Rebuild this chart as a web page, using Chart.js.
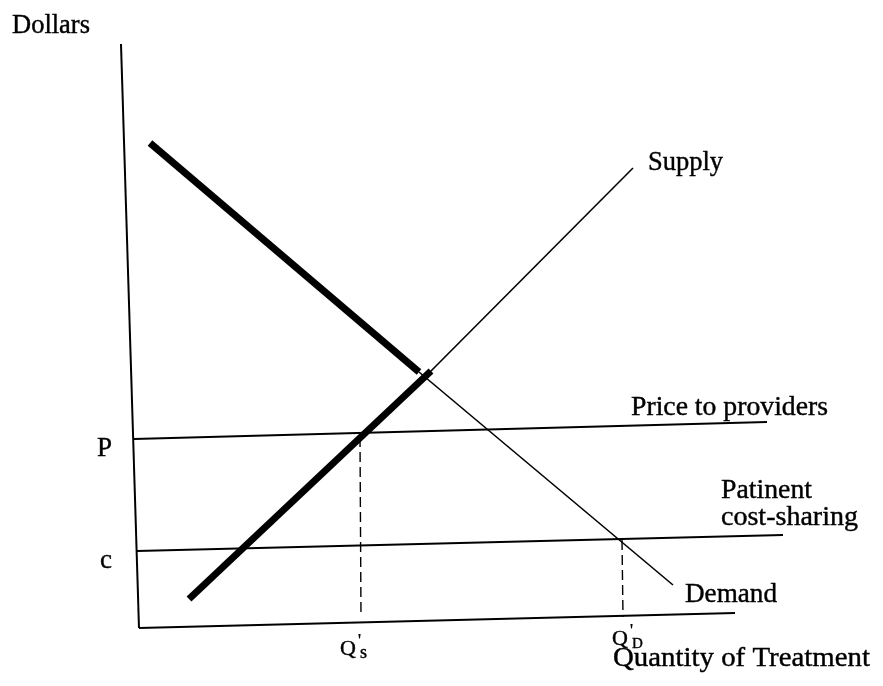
<!DOCTYPE html>
<html>
<head>
<meta charset="utf-8">
<script src="https://cdn.jsdelivr.net/npm/chart.js@4.4.1/dist/chart.umd.min.js"></script>
<style>
  html, body { margin: 0; padding: 0; background: #ffffff; }
  #wrap { width: 883px; height: 686px; position: relative; }
  #fontwarm { position: absolute; left: -9999px; top: 0; font-family: "Liberation Serif"; font-size: 27px; }
</style>
</head>
<body>
<div id="wrap"><canvas id="c" width="883" height="686"></canvas></div>
<span id="fontwarm">Dollars Qs D</span>
<script>
// Diagram coordinates (horizontal = quantity direction, vertical = dollars direction)
const axisY        = [{x:121, y:44},  {x:139, y:628}];
const axisX        = [{x:139, y:628}, {x:735, y:613}];
const priceLine    = [{x:134, y:439}, {x:767, y:422}];
const costLine     = [{x:137, y:551}, {x:783, y:535}];
const demandThick  = [{x:150, y:143}, {x:419, y:372}];
const demandThin   = [{x:419, y:372}, {x:673, y:585}];
const supplyThick  = [{x:189, y:599}, {x:431, y:371}];
const supplyThin   = [{x:427, y:375}, {x:633, y:168}];
const qsDash       = [{x:360, y:437}, {x:361, y:617}];
const qdDash       = [{x:622, y:540}, {x:623, y:617}];

// Text labels
const labelTexts = ["Dollars", "Supply", "Price to providers", "Patinent", "cost-sharing", "Demand", "Quantity of Treatment", "P", "c"];
const labelX     = [12, 648, 631, 721, 721, 685, 613, 97, 100];
const labelY     = [33, 170, 415, 498, 525, 602, 666, 456, 568];
const labelW     = [78, 75, 197, 91, 137, 92, 257, 15, 12];

const qLabels    = ["Q", "Q"];
const qSubs      = ["s", "D"];
const qX         = [340, 612];
const qY         = [655, 645];

const ink = '#000000';
const SERIF = '"Liberation Serif", "Times New Roman", Times, serif';

function seg(data, width, dash) {
  return {
    data: data,
    showLine: true,
    borderColor: ink,
    backgroundColor: ink,
    borderWidth: width,
    borderDash: dash || [],
    pointRadius: 0,
    pointHoverRadius: 0,
    fill: false,
    tension: 0,
    borderCapStyle: 'butt'
  };
}

const textPlugin = {
  id: 'diagramText',
  afterDatasetsDraw(chart) {
    const ctx = chart.ctx;
    const xs = chart.scales.x, ys = chart.scales.y;
    ctx.save();
    ctx.fillStyle = ink;
    ctx.strokeStyle = ink;
    ctx.lineWidth = 0.4;
    ctx.textBaseline = 'alphabetic';
    ctx.textAlign = 'left';
    for (let i = 0; i < labelTexts.length; i++) {
      ctx.font = '27px ' + SERIF;
      const px = xs.getPixelForValue(labelX[i]);
      const py = ys.getPixelForValue(labelY[i]);
      const w = ctx.measureText(labelTexts[i]).width;
      const sx = labelW[i] / w;
      ctx.save();
      ctx.translate(px, py);
      ctx.scale(sx, 1);
      ctx.fillText(labelTexts[i], 0, 0);
      ctx.strokeText(labelTexts[i], 0, 0);
      ctx.restore();
    }
    for (let i = 0; i < qLabels.length; i++) {
      const px = xs.getPixelForValue(qX[i]);
      const py = ys.getPixelForValue(qY[i]);
      ctx.font = '22px ' + SERIF;
      ctx.fillText(qLabels[i], px, py);
      ctx.strokeText(qLabels[i], px, py);
      const qw = ctx.measureText(qLabels[i]).width;
      ctx.font = 'bold 18px ' + SERIF;
      ctx.fillText("'", px + qw + 1, py - 8);
      ctx.font = (qSubs[i] === 's' ? '18px ' : '15px ') + SERIF;
      ctx.fillText(qSubs[i], px + qw + 4, py + 3);
      ctx.strokeText(qSubs[i], px + qw + 4, py + 3);
    }
    ctx.restore();
  }
};

function build() {
  new Chart(document.getElementById('c'), {
    type: 'scatter',
    data: {
      datasets: [
        seg(axisY, 2),
        seg(axisX, 2),
        seg(priceLine, 1.8),
        seg(costLine, 1.8),
        seg(demandThin, 1.6),
        seg(supplyThin, 1.6),
        seg(qsDash, 1.4, [10, 5]),
        seg(qdDash, 1.4, [10, 5]),
        seg(demandThick, 7),
        seg(supplyThick, 7)
      ]
    },
    options: {
      responsive: false,
      animation: false,
      devicePixelRatio: 1,
      layout: { padding: 0 },
      plugins: { legend: { display: false }, tooltip: { enabled: false } },
      scales: {
        x: { type: 'linear', min: 0, max: 883, display: false },
        y: { type: 'linear', min: 0, max: 686, reverse: true, display: false }
      }
    },
    plugins: [textPlugin]
  });
}

let built = false;
function once() { if (!built) { built = true; build(); } }
if (document.fonts && document.fonts.load) {
  Promise.all([
    document.fonts.load('27px "Liberation Serif"'),
    document.fonts.load('bold 18px "Liberation Serif"')
  ]).then(once, once);
  setTimeout(once, 400);
} else {
  once();
}
</script>
</body>
</html>
